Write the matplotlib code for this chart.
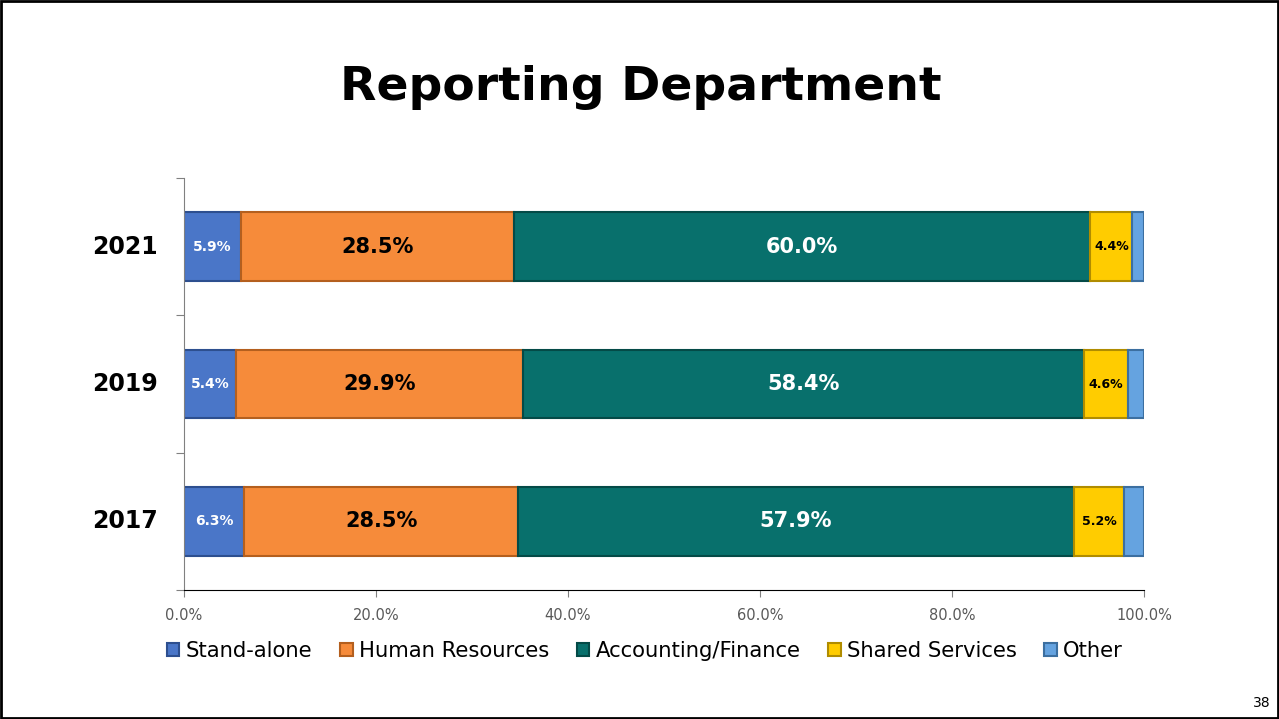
import numpy as np
import matplotlib.pyplot as plt
from matplotlib.patches import Rectangle

years = ['2021', '2019', '2017']
departments = ['Stand-alone', 'Human Resources', 'Accounting/Finance', 'Shared Services', 'Other']
stand_alone = [5.9, 5.4, 6.3]
human_resources = [28.5, 29.9, 28.5]
accounting = [60.0, 58.4, 57.9]
shared_services = [4.4, 4.6, 5.2]
other = [1.2, 1.7, 2.1]

series = [stand_alone, human_resources, accounting, shared_services, other]
colors = ['#4a76c8', '#f68b3a', '#08706c', '#ffcc00', '#65a3e0']
edges = ['#2d4f8f', '#b45f1e', '#044a47', '#b08c00', '#3c6fa0']
label_colors = ['white', 'black', 'white', 'black', None]
label_sizes = [10, 15, 15, 9, None]

fig = plt.figure(figsize=(12.79, 7.19), dpi=100)
ax = fig.add_axes([184/1279, 129/719, 960/1279, 412/719])

y = np.arange(len(years))[::-1]
left = np.zeros(len(years))
for vals, c, ec, lc, ls, name in zip(series, colors, edges, label_colors, label_sizes, departments):
    vals = np.array(vals)
    bars = ax.barh(y, vals, left=left, height=0.5, color=c, edgecolor=ec, linewidth=1.5, label=name)
    if lc is not None:
        for yi, l, v in zip(y, left, vals):
            ax.text(l + v / 2, yi, f'{v:.1f}%', ha='center', va='center',
                    color=lc, fontsize=ls, fontweight='bold')
    left += vals

ax.set_xlim(0, 100)
ax.set_ylim(-0.5, 2.5)
ax.set_xticks(np.arange(0, 101, 20))
ax.set_xticklabels([f'{v:.1f}%' for v in np.arange(0, 101, 20)], color='#595959', fontsize=10.5)
ax.set_yticks([-0.5, 0.5, 1.5, 2.5])
ax.set_yticklabels([])
ax.tick_params(axis='y', length=6, color='#808080')
ax.tick_params(axis='x', length=5, color='#808080', pad=8)
for yi, yr in zip(y, years):
    ax.text(-2.7, yi, yr, ha='right', va='center', fontsize=17, fontweight='bold')
for s in ['top', 'right']:
    ax.spines[s].set_visible(False)
ax.spines['left'].set_color('#808080')
ax.spines['bottom'].set_color('black')

fig.legend(loc='center', bbox_to_anchor=(645/1279, 1 - 651/719), ncol=5, frameon=False,
           prop={'family': ['Liberation Sans Narrow', 'DejaVu Sans'], 'size': 15.2},
           handlelength=0.6, handleheight=0.6, handletextpad=0.3, columnspacing=1.3)

fig.text(641/1279, 1 - 88/719, 'Reporting Department', ha='center', va='center',
         fontsize=34, fontweight='bold')
fig.text(1262/1279, 1 - 703/719, '38', ha='center', va='center', fontsize=10)
fig.patches.append(Rectangle((0.001, 0.002), 0.998, 0.997, transform=fig.transFigure,
                             fill=False, edgecolor='black', linewidth=2))

fig.savefig('out.png', dpi=100)
